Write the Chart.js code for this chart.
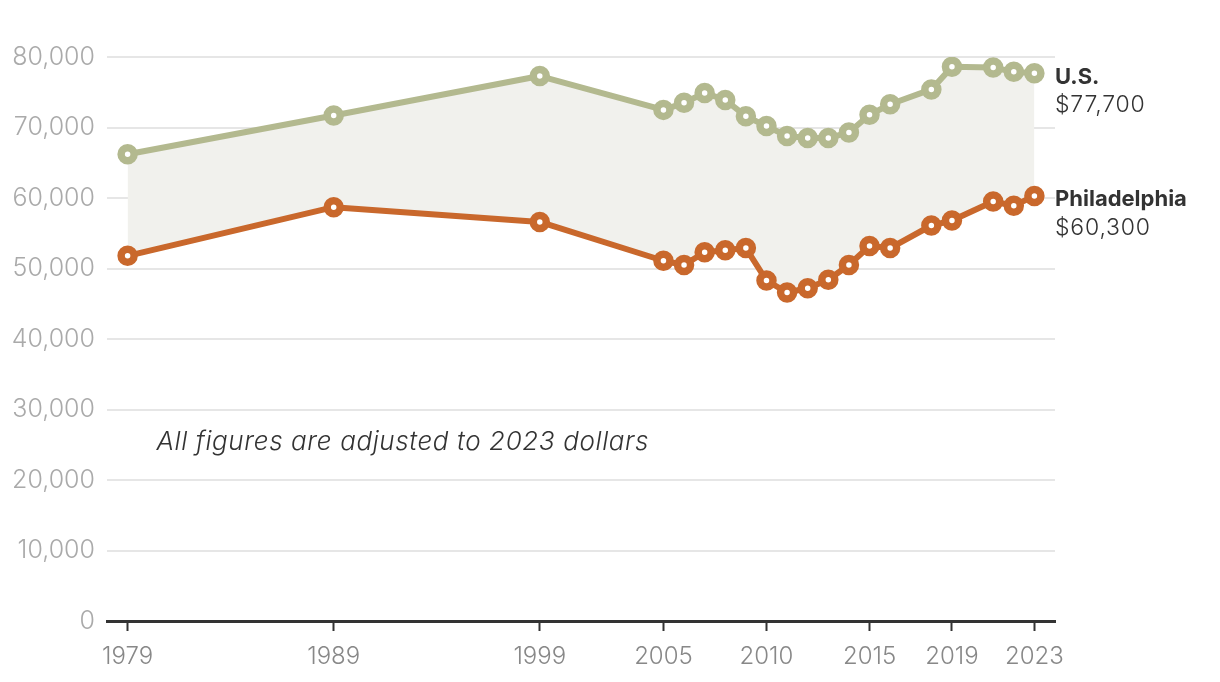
<!DOCTYPE html>
<html>
<head>
<meta charset="utf-8">
<script src="https://cdn.jsdelivr.net/npm/chart.js@4"></script>
<style>
html,body{margin:0;padding:0;background:#fff;}
#wrap{position:relative;width:1220px;height:682px;}
</style>
</head>
<body>
<div id="wrap"><canvas id="c"></canvas></div>
<script>
const years = [1979,1989,1999,2005,2006,2007,2008,2009,2010,2011,2012,2013,2014,2015,2016,2018,2019,2021,2022,2023];
const usValues = [66200,71700,77300,72500,73500,74900,73900,71600,70200,68800,68500,68500,69300,71800,73300,75400,78600,78500,77900,77700];
const phillyValues = [51800,58700,56600,51100,50500,52300,52600,52900,48300,46600,47200,48400,50500,53200,52900,56100,56800,59500,58900,60300];
const xTickYears = [1979,1989,1999,2005,2010,2015,2019,2023];
const yTickValues = [0,10000,20000,30000,40000,50000,60000,70000,80000];
const seriesNames = ['U.S.','Philadelphia'];
const endLabels = ['$77,700','$60,300'];
const noteText = 'All figures are adjusted to 2023 dollars';

const US_COLOR = '#b3b98f';
const PH_COLOR = '#c9682c';
const FONT = 'Inter, "Liberation Sans", sans-serif';

const toPts = (vals) => years.map((y,i) => ({x:y, y:vals[i]}));

const endLabelPlugin = {
  id:'endLabels',
  afterDatasetsDraw(chart){
    const ctx = chart.ctx;
    ctx.save();
    chart.data.datasets.forEach((ds,i) => {
      const meta = chart.getDatasetMeta(i);
      const last = meta.data[meta.data.length-1];
      const x = chart.chartArea.right;
      const y = last.y + 4;
      ctx.textAlign = 'left';
      ctx.textBaseline = 'middle';
      ctx.fillStyle = '#333';
      ctx.font = '700 22px ' + FONT;
      ctx.fillText(seriesNames[i], x, y);
      ctx.font = '300 23px ' + FONT;
      ctx.letterSpacing = '0.8px';
      ctx.fillText(endLabels[i], x, y + 28);
      ctx.letterSpacing = '0px';
    });
    const xs = chart.scales.x, ys = chart.scales.y;
    ctx.font = 'italic 300 26px ' + FONT;
    ctx.letterSpacing = '0.6px';
    ctx.fillStyle = '#333';
    ctx.textAlign = 'left';
    ctx.textBaseline = 'middle';
    ctx.fillText(noteText, xs.getPixelForValue(1980.4), ys.getPixelForValue(25300));
    ctx.restore();
  }
};

new Chart(document.getElementById('c'), {
  type:'line',
  data:{
    datasets:[
      {
        label:seriesNames[0],
        data:toPts(usValues),
        borderColor:US_COLOR,
        backgroundColor:'#f1f1ed',
        borderWidth:6,
        pointRadius:6.5,
        pointBorderWidth:7.5,
        pointBackgroundColor:'#fff',
        pointBorderColor:US_COLOR,
        fill:'+1',
        tension:0
      },
      {
        label:seriesNames[1],
        data:toPts(phillyValues),
        borderColor:PH_COLOR,
        backgroundColor:'transparent',
        borderWidth:6,
        pointRadius:6.5,
        pointBorderWidth:7.5,
        pointBackgroundColor:'#fff',
        pointBorderColor:PH_COLOR,
        fill:false,
        tension:0
      }
    ]
  },
  options:{
    responsive:true,
    maintainAspectRatio:false,
    animation:false,
    layout:{padding:{top:57,right:165,bottom:0,left:0}},
    plugins:{legend:{display:false},tooltip:{enabled:false},filler:{drawTime:'beforeDatasetsDraw'}},
    elements:{line:{borderJoinStyle:'round'}},
    scales:{
      x:{
        type:'linear',
        min:1978,
        max:2024,
        afterBuildTicks(s){ s.ticks = xTickYears.map(v => ({value:v})); },
        afterFit(s){ s.height = 61; },
        grid:{drawOnChartArea:false, drawTicks:true, tickLength:10, tickColor:'#333', tickWidth:2},
        border:{display:true, color:'#333', width:3},
        ticks:{
          padding:11,
          color:'#888',
          font:{family:FONT, size:24, weight:300},
          maxRotation:0,
          autoSkip:false,
          callback:(v) => String(v)
        }
      },
      y:{
        min:0,
        max:80000,
        afterBuildTicks(s){ s.ticks = yTickValues.map(v => ({value:v})); },
        afterFit(s){ s.width = 107; },
        grid:{
          drawTicks:false,
          color:(c) => c.tick && c.tick.value === 0 ? 'rgba(0,0,0,0)' : '#e6e6e6',
          lineWidth:2
        },
        border:{display:false},
        ticks:{
          padding:12,
          color:'#aaa',
          font:{family:FONT, size:25, weight:300},
          callback:(v) => v.toLocaleString('en-US')
        }
      }
    }
  },
  plugins:[endLabelPlugin]
});
</script>
</body>
</html>
